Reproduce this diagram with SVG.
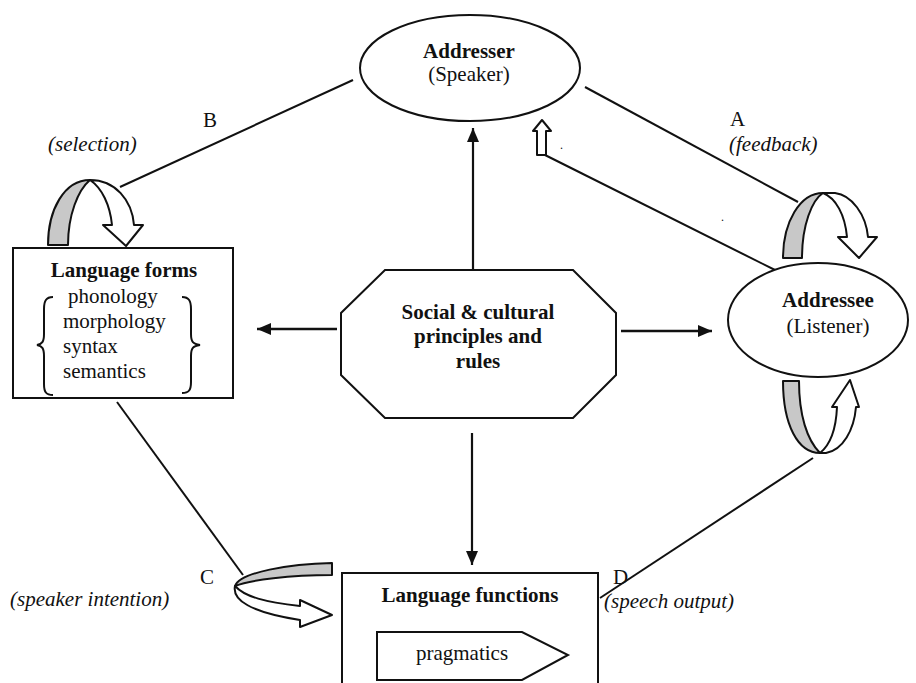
<svg xmlns="http://www.w3.org/2000/svg" width="916" height="683" viewBox="0 0 916 683" font-family="'Liberation Serif', 'DejaVu Serif', 'Times New Roman', serif">
<style>
text{font-size:21px;fill:#111;}
.b{font-weight:bold;}
.i{font-style:italic;}
.m{text-anchor:middle;}
.ln{stroke:#111;stroke-width:2;fill:none;}
.sh{stroke:#111;stroke-width:2;fill:#fff;}
.g{stroke:#111;stroke-width:2;fill:#c8c8c8;stroke-linejoin:round;}
.w{stroke:#111;stroke-width:2;fill:#fff;stroke-linejoin:round;}
</style>
<defs>
<marker id="ah" markerWidth="14" markerHeight="12" refX="14" refY="6" orient="auto" markerUnits="userSpaceOnUse" viewBox="0 0 14 12">
<path d="M0,0 L14,6 L0,12 Z" fill="#111"/>
</marker>
</defs>
<rect width="916" height="683" fill="#fff"/>

<g id="connectors">
<line class="ln" x1="353" y1="80" x2="120" y2="187"/>
<line class="ln" x1="585" y1="87" x2="798" y2="202"/>
<line class="ln" x1="545" y1="155" x2="775" y2="270"/>
<line class="ln" x1="117" y1="402" x2="243" y2="575"/>
<line class="ln" x1="600" y1="598" x2="813" y2="458"/>
<line class="ln" x1="473" y1="270" x2="473" y2="128" marker-end="url(#ah)" style="stroke-width:2.2"/>
<line class="ln" x1="337" y1="329" x2="257" y2="329" marker-end="url(#ah)" style="stroke-width:2.5"/>
<line class="ln" x1="621" y1="331" x2="712" y2="331" marker-end="url(#ah)" style="stroke-width:2.5"/>
<line class="ln" x1="472" y1="433" x2="472" y2="565" marker-end="url(#ah)" style="stroke-width:2.2"/>
<path class="w" d="M542,120 L551,131 L546,131 L546,155 L537,155 L537,131 L533,131 Z"/>
<text x="560" y="149" style="font-size:12px">.</text>
<text x="721" y="221" style="font-size:12px">.</text>
</g>

<g id="arrow-B">
<path class="g" d="M48,245 C48,210 64,180 90,180 C78,190 68,215 68,245 Z"/>
<path class="w" d="M90,180 C115,180 132,200 134,225 L143,225 L126,246 L103,225 L112,225 C110,205 102,188 90,180 Z"/>
</g>
<g id="arrow-A">
<path class="g" d="M783,258 C783,222 800,193 823,193 C812,200 802,225 802,258 Z"/>
<path class="w" d="M823,193 L835,193 C852,195 866,215 868,237 L877,237 L859,258 L838,237 L847,237 C845,215 836,198 823,193 Z"/>
</g>
<g id="arrow-D">
<path class="g" d="M783,381 L799,381 C799,415 807,440 820,453 C798,453 783,425 783,381 Z"/>
<path class="w" d="M820,453 L826,453 C843,450 854,430 856,407 L859,407 L850,380 L832,407 L837,407 C836,430 830,445 820,453 Z"/>
</g>
<g id="arrow-C">
<path class="g" d="M332,563 C290,564 240,572 235,586 C250,580 290,575 332,575 Z"/>
<path class="w" d="M235,586 C232,600 250,612 300,620 L300,627 L332,615 L300,600 L300,606 C265,602 245,597 235,586 Z"/>
</g>

<g id="addresser">
<ellipse class="sh" cx="470" cy="68" rx="110" ry="53"/>
<text class="b m" x="469" y="58">Addresser</text>
<text class="m" x="469" y="81">(Speaker)</text>
</g>

<g id="addressee">
<ellipse class="sh" cx="818" cy="320" rx="90" ry="57"/>
<text class="b m" x="828" y="307">Addressee</text>
<text class="m" x="828" y="333">(Listener)</text>
</g>

<g id="language-forms">
<rect class="sh" x="13" y="248" width="220" height="150"/>
<text class="b m" x="124" y="277">Language forms</text>
<text x="68" y="303">phonology</text>
<text x="63" y="328">morphology</text>
<text x="63" y="353">syntax</text>
<text x="63" y="378">semantics</text>
<path class="ln" d="M53,297 C46,297 44,301 44,309 L44,334 C44,342 42,344 37,345 C42,346 44,348 44,356 L44,384 C44,392 46,395 53,395"/>
<path class="ln" d="M182,297 C189,297 191,301 191,309 L191,334 C191,342 193,344 200,345 C193,346 191,348 191,356 L191,382 C191,390 189,393 182,393"/>
</g>

<g id="social-cultural">
<polygon class="sh" points="385,270 573,270 616,313 616,375 573,418 385,418 341,375 341,313"/>
<text class="b m" x="478" y="319">Social &amp; cultural</text>
<text class="b m" x="478" y="343">principles and</text>
<text class="b m" x="478" y="368">rules</text>
</g>

<g id="language-functions">
<rect class="sh" x="342" y="573" width="256" height="120"/>
<text class="b m" x="470" y="602">Language functions</text>
<polygon class="sh" points="377,632 522,632 568,655 522,680 377,680"/>
<text class="m" x="462" y="660">pragmatics</text>
</g>

<g id="labels">
<text x="203" y="127">B</text>
<text class="i" x="48" y="151">(selection)</text>
<text x="730" y="126">A</text>
<text class="i" x="729" y="151">(feedback)</text>
<text x="200" y="584">C</text>
<text class="i" x="10" y="606">(speaker intention)</text>
<text x="613" y="584">D</text>
<text class="i" x="604" y="608">(speech output)</text>
</g>
</svg>
